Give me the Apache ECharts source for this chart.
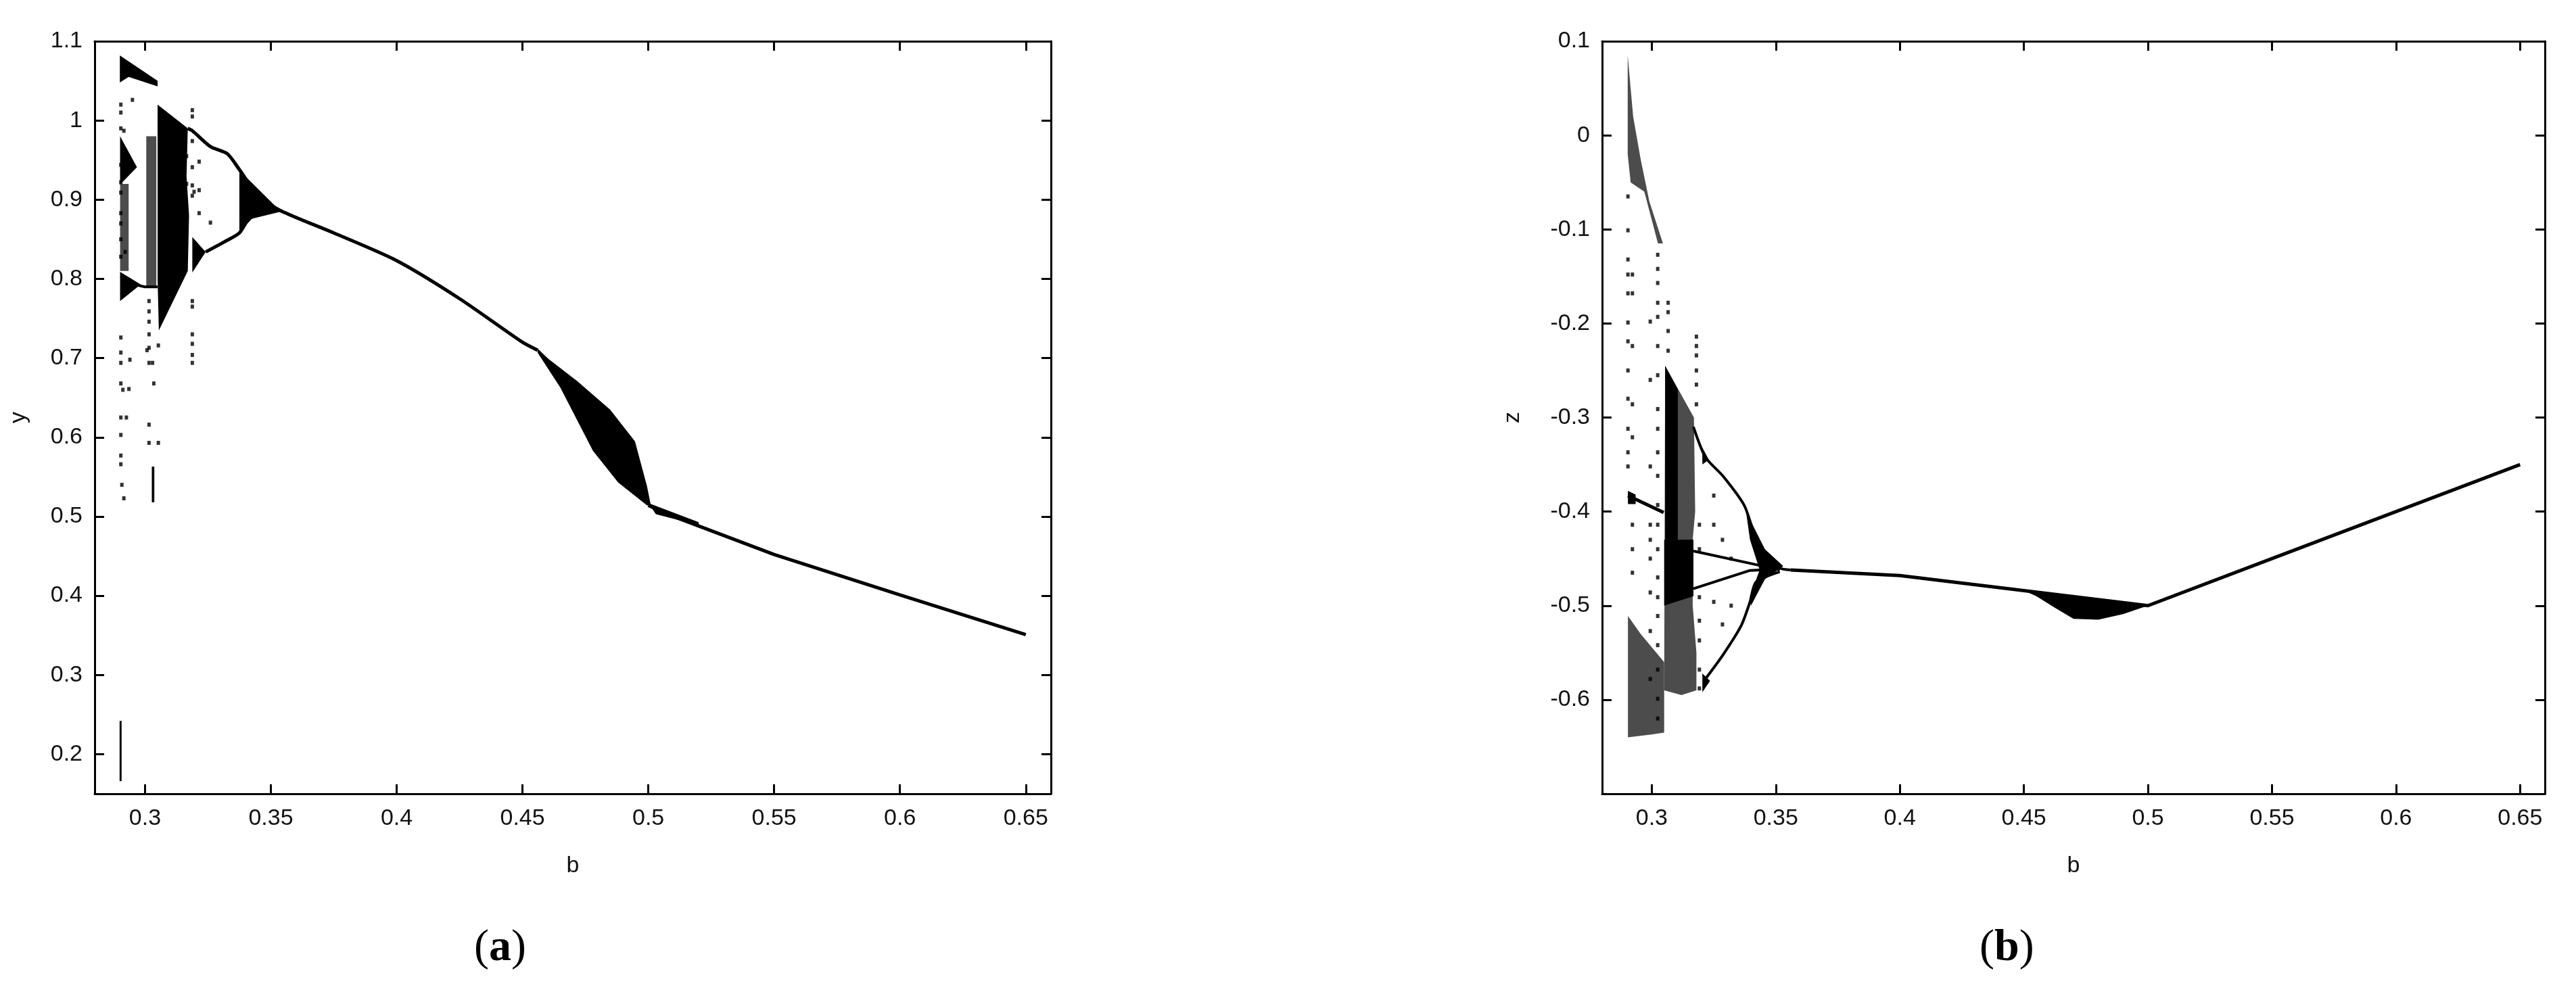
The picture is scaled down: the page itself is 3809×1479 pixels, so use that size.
<!DOCTYPE html>
<html>
<head>
<meta charset="utf-8">
<script src="https://cdn.jsdelivr.net/npm/echarts@6/dist/echarts.min.js"></script>
<style>
  html, body { margin: 0; padding: 0; background: #fff; }
  #chart { width: 3809px; height: 1479px; }
</style>
</head>
<body>
<div id="chart"></div>
<script>
// ticks
const bTicks = [0.3, 0.35, 0.4, 0.45, 0.5, 0.55, 0.6, 0.65];
const yTicks = [0.2, 0.3, 0.4, 0.5, 0.6, 0.7, 0.8, 0.9, 1, 1.1];
const zTicks = [-0.6, -0.5, -0.4, -0.3, -0.2, -0.1, 0, 0.1];

// ---- panel (a): y versus b ----
const yUpperBranch = [[0.317, 0.99], [0.3188, 0.987], [0.326, 0.967], [0.3327, 0.958], [0.3375, 0.938],
  [0.345, 0.905], [0.354, 0.886], [0.375, 0.858], [0.4, 0.823], [0.425, 0.775], [0.45, 0.72], [0.456, 0.71]];
const yLowerBranch = [[0.3241, 0.834], [0.3317, 0.847], [0.3375, 0.858], [0.3413, 0.876], [0.347, 0.886]];
const yTail = [[0.5, 0.514], [0.51, 0.5], [0.55, 0.452], [0.6, 0.401], [0.65, 0.351]];
const yLeftLine = [[0.2903, 0.803], [0.2935, 0.797], [0.297, 0.792], [0.3, 0.79], [0.305, 0.79]];

const ySolid = [
  [[0.290, 1.082], [0.305, 1.050], [0.305, 1.043], [0.2935, 1.055], [0.290, 1.048]],
  [[0.305, 1.020], [0.317, 0.990], [0.3165, 0.93], [0.3175, 0.88], [0.317, 0.81], [0.3055, 0.735], [0.305, 0.80]],
  [[0.2901, 0.980], [0.2968, 0.941], [0.2901, 0.919]],
  [[0.2901, 0.809], [0.2983, 0.793], [0.2901, 0.772]],
  [[0.3375, 0.937], [0.354, 0.885], [0.3425, 0.876], [0.3375, 0.859]],
  [[0.3188, 0.853], [0.3241, 0.834], [0.3188, 0.808]],
  [[0.456, 0.712], [0.4603, 0.699], [0.4717, 0.671], [0.4848, 0.635], [0.4947, 0.595], [0.4995, 0.538], [0.501, 0.514],
   [0.4995, 0.514], [0.488, 0.543], [0.478, 0.583], [0.465, 0.663], [0.456, 0.707]],
  [[0.5, 0.517], [0.52, 0.493], [0.52, 0.489], [0.503, 0.503]],
  [[0.3027, 0.563], [0.3037, 0.563], [0.3037, 0.518], [0.3027, 0.518]],
  [[0.2899, 0.242], [0.2907, 0.242], [0.2907, 0.166], [0.2899, 0.166]]
];
const yStipple = [
  [[0.3005, 0.98], [0.3045, 0.98], [0.3045, 0.79], [0.3005, 0.79]],
  [[0.2901, 0.92], [0.2935, 0.92], [0.2935, 0.81], [0.2901, 0.81]]
];
const yDots = [
  [0.2904, 1.02], [0.2904, 1.01], [0.2904, 0.99], [0.2904, 0.944], [0.2904, 0.922], [0.2904, 0.909], [0.2904, 0.883],
  [0.2904, 0.870], [0.2904, 0.850], [0.2904, 0.828], [0.2904, 0.726], [0.2904, 0.707], [0.2904, 0.694], [0.2904, 0.668],
  [0.2904, 0.625], [0.2904, 0.603], [0.2904, 0.577], [0.2904, 0.566], [0.2916, 0.987], [0.295, 1.026], [0.2921, 0.834],
  [0.294, 0.698], [0.2912, 0.660], [0.2926, 0.625], [0.2936, 0.661], [0.2908, 0.54], [0.2916, 0.523],
  [0.3016, 0.772], [0.3016, 0.759], [0.3016, 0.746], [0.3016, 0.730], [0.3016, 0.713], [0.3016, 0.694], [0.3016, 0.616],
  [0.3016, 0.593], [0.3053, 0.716], [0.3053, 0.593], [0.303, 0.694], [0.3008, 0.71], [0.3035, 0.668],
  [0.3188, 1.013], [0.3188, 1.005], [0.3188, 0.974], [0.3188, 0.941], [0.3188, 0.918], [0.3188, 0.905], [0.3188, 0.772],
  [0.3188, 0.765], [0.3188, 0.730], [0.3188, 0.718], [0.3188, 0.704], [0.3188, 0.694], [0.3215, 0.948], [0.3215, 0.912],
  [0.3215, 0.883], [0.3195, 0.91], [0.326, 0.871], [0.3165, 0.955], [0.3165, 0.92]
];

// ---- panel (b): z versus b ----
const zUpperBranch = [[0.3168, -0.31], [0.3216, -0.342], [0.3288, -0.3626], [0.3372, -0.393], [0.3408, -0.419],
  [0.3456, -0.4446], [0.3516, -0.46], [0.356, -0.462]];
const zLowerBranch = [[0.3216, -0.578], [0.3288, -0.552], [0.336, -0.5215], [0.3396, -0.496], [0.342, -0.475], [0.3516, -0.464]];
const zInner1 = [[0.3168, -0.442], [0.3396, -0.455], [0.3516, -0.462]];
const zInner2 = [[0.3168, -0.482], [0.3396, -0.4626], [0.3516, -0.461]];
const zMain = [[0.356, -0.462], [0.4, -0.468], [0.45, -0.484], [0.5, -0.5], [0.55, -0.45], [0.6, -0.4], [0.65, -0.35]];
const zLeftLine = [[0.2904, -0.383], [0.2976, -0.392], [0.3048, -0.401]];

const zSolid = [
  [[0.305, -0.43], [0.3168, -0.43], [0.3168, -0.49], [0.305, -0.50]],
  [[0.3054, -0.245], [0.3105, -0.27], [0.3105, -0.43], [0.3054, -0.43]],
  [[0.338, -0.40], [0.3456, -0.44], [0.353, -0.458], [0.3456, -0.472], [0.340, -0.50], [0.3396, -0.49],
   [0.3435, -0.462], [0.3396, -0.43]],
  [[0.45, -0.484], [0.5, -0.5], [0.49, -0.509], [0.48, -0.515], [0.47, -0.514], [0.463, -0.503], [0.455, -0.49]],
  [[0.2904, -0.378], [0.2935, -0.382], [0.2935, -0.392], [0.2904, -0.392]],
  [[0.3204, -0.332], [0.323, -0.345], [0.3204, -0.35]],
  [[0.3204, -0.572], [0.3235, -0.58], [0.3204, -0.592]]
];
const zStipple = [
  [[0.3054, -0.245], [0.317, -0.30], [0.3175, -0.40], [0.3165, -0.43], [0.3165, -0.50], [0.318, -0.55],
   [0.318, -0.59], [0.312, -0.595], [0.305, -0.59]],
  [[0.2904, -0.511], [0.2955, -0.53], [0.305, -0.56], [0.305, -0.635], [0.300, -0.637], [0.2904, -0.64]],
  [[0.2903, 0.085], [0.2925, 0.02], [0.2955, -0.025], [0.299, -0.07], [0.3045, -0.115], [0.3025, -0.115],
   [0.297, -0.06], [0.2915, -0.05], [0.2903, -0.02]]
];
const zDots = [
  [0.2904, -0.065], [0.2904, -0.101], [0.2904, -0.132], [0.2904, -0.148], [0.2904, -0.168], [0.2904, -0.199],
  [0.2904, -0.219], [0.2904, -0.25], [0.2904, -0.28], [0.2904, -0.312], [0.2904, -0.337], [0.2904, -0.352],
  [0.2922, -0.148], [0.2922, -0.168], [0.2922, -0.224], [0.2922, -0.286], [0.2922, -0.321], [0.2922, -0.414],
  [0.2922, -0.44], [0.2922, -0.465], [0.3024, -0.127], [0.3024, -0.142], [0.3024, -0.157], [0.3024, -0.178],
  [0.3024, -0.193], [0.3024, -0.224], [0.3024, -0.255], [0.3024, -0.291], [0.3024, -0.312], [0.3024, -0.337],
  [0.3024, -0.362], [0.3024, -0.393], [0.3024, -0.414], [0.3024, -0.44], [0.3024, -0.47], [0.3024, -0.491],
  [0.3024, -0.511], [0.3024, -0.542], [0.3024, -0.568], [0.3024, -0.599], [0.3024, -0.62], [0.3066, -0.178],
  [0.3066, -0.188], [0.3066, -0.208], [0.3066, -0.229], [0.318, -0.214], [0.318, -0.224], [0.318, -0.234],
  [0.318, -0.25], [0.318, -0.265], [0.318, -0.286], [0.3192, -0.414], [0.3192, -0.44], [0.3192, -0.491],
  [0.3192, -0.516], [0.3192, -0.537], [0.3192, -0.568], [0.3192, -0.588], [0.325, -0.383], [0.325, -0.414],
  [0.325, -0.496], [0.2994, -0.198], [0.2994, -0.26], [0.2994, -0.352], [0.2994, -0.414], [0.2994, -0.43],
  [0.2994, -0.45], [0.2994, -0.486], [0.2994, -0.527], [0.2994, -0.578], [0.3285, -0.43], [0.3285, -0.52],
  [0.332, -0.45], [0.332, -0.5]
];

const ink = '#000';
const labelFont = { fontFamily: 'Liberation Sans', fontSize: 34, color: '#111' };

function xAx(grid, top) {
  return {
    type: 'value', gridIndex: grid, position: top ? 'top' : 'bottom', min: 0.28, max: 0.66,
    axisLine: { show: true, onZero: false, lineStyle: { color: ink, width: 3 } },
    axisTick: { show: true, inside: true, length: 14, customValues: bTicks, lineStyle: { color: ink, width: 3 } },
    axisLabel: { show: !top, customValues: bTicks, margin: 20, ...labelFont },
    splitLine: { show: false },
    name: top ? '' : 'b', nameLocation: 'middle', nameGap: 90,
    nameTextStyle: { fontFamily: 'Liberation Sans', fontSize: 34, color: '#111' }
  };
}
function yAx(grid, right, min, max, ticks, name, gap) {
  return {
    type: 'value', gridIndex: grid, position: right ? 'right' : 'left', min: min, max: max,
    axisLine: { show: true, onZero: false, lineStyle: { color: ink, width: 3 } },
    axisTick: { show: true, inside: true, length: 14, customValues: ticks, lineStyle: { color: ink, width: 3 } },
    axisLabel: { show: !right, customValues: ticks, margin: 18, ...labelFont },
    splitLine: { show: false },
    name: right ? '' : name, nameLocation: 'middle', nameGap: gap, nameRotate: 90,
    nameTextStyle: { fontFamily: 'Liberation Sans', fontSize: 34, color: '#111' }
  };
}

function curve(points, xi, w, smooth) {
  return { type: 'line', xAxisIndex: xi, yAxisIndex: xi, data: points, symbol: 'none', smooth: smooth || false,
    lineStyle: { color: ink, width: w || 5 }, silent: true, z: 3 };
}
function polys(list, xi, opacity) {
  return {
    type: 'custom', xAxisIndex: xi, yAxisIndex: xi, data: list.map(p => p[0]), silent: true, z: 2,
    renderItem: (params, api) => ({
      type: 'polygon',
      shape: { points: list[params.dataIndex].map(p => api.coord(p)) },
      style: { fill: ink, opacity: opacity }
    })
  };
}
function dots(list, xi) {
  return { type: 'scatter', xAxisIndex: xi, yAxisIndex: xi, data: list, symbol: 'rect', symbolSize: [5, 6],
    itemStyle: { color: ink }, silent: true, z: 4 };
}

const chart = echarts.init(document.getElementById('chart'));
chart.setOption({
  backgroundColor: '#fff',
  animation: false,
  grid: [
    { left: 140, top: 61, width: 1414, height: 1113 },
    { left: 2369, top: 61, width: 1394, height: 1113 }
  ],
  xAxis: [xAx(0, false), xAx(1, false), xAx(0, true), xAx(1, true)],
  yAxis: [
    yAx(0, false, 0.15, 1.1, yTicks, 'y', 95),
    yAx(1, false, -0.7, 0.1, zTicks, 'z', 115),
    yAx(0, true, 0.15, 1.1, yTicks, '', 0),
    yAx(1, true, -0.7, 0.1, zTicks, '', 0)
  ],
  series: [
    polys(ySolid, 0, 1), polys(yStipple, 0, 0.7), dots(yDots, 0),
    curve(yUpperBranch, 0, 5, 0.25), curve(yLowerBranch, 0, 5, 0.25), curve(yTail, 0), curve(yLeftLine, 0, 4),
    polys(zSolid, 1, 1), polys(zStipple, 1, 0.7), dots(zDots, 1),
    curve(zUpperBranch, 1, 4, 0.25), curve(zLowerBranch, 1, 4, 0.25), curve(zInner1, 1, 4), curve(zInner2, 1, 4),
    curve(zMain, 1, 5), curve(zLeftLine, 1, 5)
  ],
  graphic: [
    { type: 'text', left: 741 - 40, top: 1370, style: { text: '{p|(}{l|a}{p|)}',
      rich: { p: { fontFamily: 'Liberation Serif', fontSize: 66, fill: '#000' },
              l: { fontFamily: 'Liberation Serif', fontSize: 66, fontWeight: 'bold', fill: '#000' } } } },
    { type: 'text', left: 2967 - 40, top: 1370, style: { text: '{p|(}{l|b}{p|)}',
      rich: { p: { fontFamily: 'Liberation Serif', fontSize: 66, fill: '#000' },
              l: { fontFamily: 'Liberation Serif', fontSize: 66, fontWeight: 'bold', fill: '#000' } } } }
  ]
});
</script>
</body>
</html>
